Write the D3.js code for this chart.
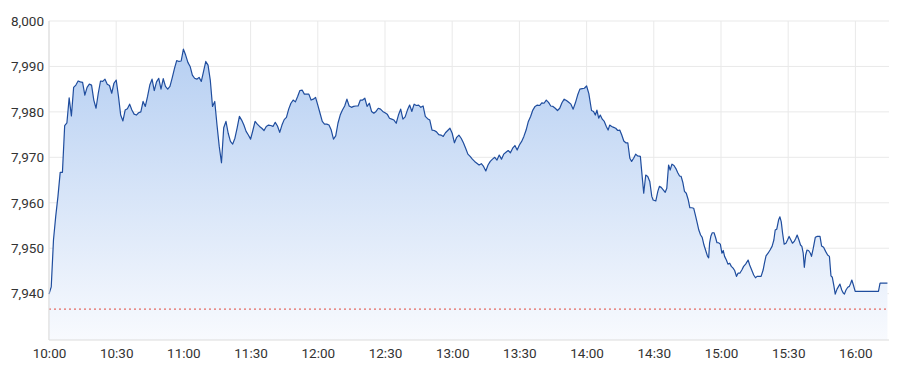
<!DOCTYPE html>
<html>
<head>
<meta charset="utf-8">
<script src="https://cdn.jsdelivr.net/npm/d3@7"></script>
<style>
  body { margin: 0; background: #fff; }
  #chart text { font-family: Roboto, "Noto Sans", sans-serif; }
</style>
</head>
<body>
<div id="chart"></div>
<script>
// minutes after 10:00 and the index level read at that moment
const minutes = [
  0, 1, 2, 3, 4, 5, 6, 7, 8, 9, 10, 11, 12, 13, 14, 15, 16, 17, 18, 19,
  20, 21, 22, 23, 24, 25, 26, 27, 28, 29, 30, 31, 32, 33, 34, 35, 36, 37, 38, 39,
  40, 41, 42, 43, 44, 45, 46, 47, 48, 49, 50, 51, 52, 53, 54, 55, 56, 57, 58, 59,
  60, 61, 62, 63, 64, 65, 66, 67, 68, 69, 70, 71, 72, 73, 74, 75, 76, 77, 78, 79,
  80, 81, 82, 83, 84, 85, 86, 87, 88, 89, 90, 91, 92, 93, 94, 95, 96, 97, 98, 99,
  100, 101, 102, 103, 104, 105, 106, 107, 108, 109, 110, 111, 112, 113, 114, 115, 116, 117, 118, 119,
  120, 121, 122, 123, 124, 125, 126, 127, 128, 129, 130, 131, 132, 133, 134, 135, 136, 137, 138, 139,
  140, 141, 142, 143, 144, 145, 146, 147, 148, 149, 150, 151, 152, 153, 154, 155, 156, 157, 158, 159,
  160, 161, 162, 163, 164, 165, 166, 167, 168, 169, 170, 171, 172, 173, 174, 175, 176, 177, 178, 179,
  180, 181, 182, 183, 184, 185, 186, 187, 188, 189, 190, 191, 192, 193, 194, 195, 196, 197, 198, 199,
  200, 201, 202, 203, 204, 205, 206, 207, 208, 209, 210, 211, 212, 213, 214, 215, 216, 217, 218, 219,
  220, 221, 222, 223, 224, 225, 226, 227, 228, 229, 230, 231, 232, 233, 234, 235, 236, 237, 238, 239,
  240, 241, 242.2, 243.1, 243.9, 244.6, 245.4, 246.1, 247, 247.9, 248.8, 249.6, 250.3, 251.2, 252.1, 253, 253.9, 254.8, 255.7, 256.6,
  257.5, 258.4, 259.3, 260.1, 261, 261.9, 262.8, 264, 264.6, 265.5, 266.4, 267.3, 268.2, 269.1, 269.7, 270.9, 271.8, 272.5, 273.3, 274.3,
  275.1, 275.8, 276.6, 277.3, 278.1, 279, 280, 280.7, 281.5, 282.2, 283, 283.7, 284.5, 285.4, 286.1, 287, 287.8, 288.7, 289.4, 290.1,
  290.9, 291.6, 292.4, 293.1, 294, 294.5, 294.9, 295.5, 296.1, 296.9, 297.6, 298.2, 298.9, 299.7, 300.4, 301, 301.6, 302.4, 303.1, 303.9,
  304.6, 305.4, 306.1, 306.9, 307.6, 308.4, 309.3, 310.1, 311, 312.1, 312.8, 313.7, 314.6, 315.4, 316.1, 317, 317.9, 318.8, 319.4, 320.1,
  321, 321.9, 322.8, 323.6, 324.2, 324.9, 325.7, 326.3, 326.9, 327.5, 328.2, 329, 329.7, 330.4, 331.2, 331.9, 332.7, 333.4, 334, 334.8,
  335.5, 336.1, 336.7, 337.2, 337.8, 338.4, 339.1, 339.9, 340.4, 341.2, 342.1, 343, 344.2, 344.9, 345.8, 346.7, 347.6, 348.4, 349.1, 349.7,
  350.4, 351, 351.8, 352.5, 353.1, 353.9, 354.5, 355.1, 355.8, 356.6, 357.3, 357.9, 358.4, 359.1, 359.9, 370.3, 371, 374.3
];
const prices = [
  7939.9, 7941.5, 7951.8, 7957.0, 7961.4, 7966.7, 7966.7, 7977.0, 7977.6, 7983.1, 7979.1, 7985.4, 7985.9, 7986.8, 7986.6, 7986.5, 7983.7, 7985.4, 7986.1, 7985.9,
  7982.6, 7980.8, 7984.1, 7986.8, 7986.7, 7987.2, 7986.1, 7985.8, 7984.1, 7986.3, 7987.0, 7983.5, 7979.3, 7978.0, 7980.4, 7980.7, 7981.7, 7980.4, 7979.5, 7979.3,
  7979.8, 7980.0, 7982.3, 7981.2, 7983.4, 7985.9, 7987.2, 7984.7, 7986.6, 7987.4, 7985.0, 7987.3, 7985.6, 7985.0, 7985.6, 7987.5, 7989.5, 7991.3, 7991.1, 7991.2,
  7993.8, 7992.5, 7990.9, 7990.0, 7988.1, 7987.4, 7987.2, 7987.6, 7986.7, 7988.9, 7991.1, 7990.3, 7987.0, 7981.2, 7982.3, 7977.1, 7972.4, 7968.8, 7976.5, 7977.9,
  7975.3, 7973.5, 7972.9, 7974.2, 7976.5, 7979.0, 7978.2, 7977.1, 7975.7, 7974.9, 7974.0, 7975.9, 7977.9, 7977.3, 7976.8, 7976.4, 7975.9, 7976.8, 7977.1, 7977.0,
  7976.8, 7977.7, 7976.9, 7975.5, 7977.1, 7978.3, 7978.8, 7980.6, 7981.9, 7982.6, 7982.2, 7983.4, 7984.7, 7984.8, 7983.9, 7983.9, 7983.9, 7982.6, 7982.8, 7983.2,
  7981.5, 7979.7, 7977.9, 7977.3, 7977.3, 7977.1, 7976.0, 7974.0, 7974.7, 7977.5, 7979.3, 7980.4, 7981.3, 7982.8, 7981.3, 7981.0, 7981.2, 7981.3, 7981.3, 7982.6,
  7982.6, 7983.0, 7981.2, 7981.9, 7980.1, 7979.7, 7980.1, 7980.8, 7980.6, 7980.1, 7979.8, 7979.5, 7978.6, 7978.4, 7978.2, 7977.5, 7979.3, 7980.6, 7978.4, 7978.9,
  7980.4, 7981.5, 7980.1, 7981.7, 7981.4, 7981.5, 7981.0, 7981.3, 7979.0, 7978.5, 7978.2, 7976.0, 7975.9, 7975.6, 7975.0, 7974.9, 7974.6, 7975.4, 7975.9, 7976.4,
  7975.3, 7973.2, 7974.4, 7974.9, 7974.2, 7973.2, 7972.0, 7970.7, 7970.2, 7969.6, 7969.1, 7968.7, 7968.3, 7968.6, 7968.0, 7967.0, 7968.3, 7969.1, 7969.6, 7970.0,
  7969.4, 7970.5, 7969.6, 7970.7, 7971.1, 7971.5, 7971.0, 7972.0, 7972.6, 7971.6, 7972.7, 7973.5, 7974.6, 7976.0, 7977.9, 7979.0, 7980.4, 7981.2, 7981.5, 7981.4,
  7982.0, 7981.9, 7982.6, 7982.1, 7981.3, 7981.2, 7980.8, 7980.3, 7980.8, 7982.0, 7982.8, 7982.5, 7982.1, 7981.7, 7980.6, 7982.0, 7983.7, 7985.0, 7985.1, 7985.2,
  7985.7, 7984.0, 7980.3, 7980.1, 7979.3, 7980.4, 7978.6, 7979.3, 7978.4, 7977.9, 7976.8, 7976.0, 7977.1, 7976.8, 7976.6, 7976.4, 7975.9, 7976.0, 7974.9, 7973.6,
  7973.2, 7973.2, 7969.8, 7969.1, 7969.8, 7970.7, 7970.3, 7970.2, 7966.9, 7962.1, 7966.1, 7965.8, 7964.7, 7961.4, 7960.6, 7960.4, 7962.5, 7963.6, 7963.4, 7962.8,
  7962.3, 7963.2, 7968.3, 7967.2, 7968.5, 7968.2, 7967.4, 7966.6, 7965.9, 7965.8, 7964.4, 7962.5, 7962.1, 7960.6, 7958.9, 7958.9, 7958.8, 7957.0, 7955.5, 7954.0,
  7952.9, 7952.4, 7950.7, 7949.6, 7948.2, 7947.9, 7951.1, 7952.7, 7953.4, 7953.4, 7952.3, 7951.2, 7951.2, 7950.9, 7948.9, 7949.5, 7948.2, 7947.4, 7946.5, 7946.7,
  7946.0, 7945.6, 7945.1, 7943.8, 7944.5, 7944.5, 7945.2, 7946.0, 7946.5, 7947.4, 7946.3, 7945.2, 7944.1, 7943.5, 7943.8, 7943.8, 7943.8, 7945.2, 7946.7, 7948.3,
  7948.9, 7949.6, 7950.4, 7951.8, 7954.0, 7954.2, 7956.2, 7956.9, 7955.8, 7953.3, 7950.9, 7951.1, 7951.8, 7952.6, 7951.8, 7951.1, 7951.5, 7952.2, 7952.9, 7951.8,
  7950.7, 7950.4, 7948.9, 7945.8, 7948.5, 7949.6, 7949.5, 7948.9, 7948.2, 7950.0, 7952.4, 7952.6, 7952.6, 7950.5, 7950.2, 7949.3, 7948.5, 7948.2, 7943.9, 7943.6,
  7941.7, 7939.9, 7941.0, 7941.6, 7942.1, 7940.8, 7940.2, 7939.9, 7940.8, 7941.4, 7941.6, 7942.3, 7943.0, 7941.9, 7940.5, 7940.5, 7942.3, 7942.3
];
const prevClose = 7936.6;
const yTicks = [7940, 7950, 7960, 7970, 7980, 7990, 8000];
const yMin = 7929.8, yMax = 8000;
const sessionMinutes = 375; // 10:00 -> 16:15

// set the dimensions and margins of the graph
const margin = {top: 21, right: 11, bottom: 35, left: 49},
  width = 900 - margin.left - margin.right,
  height = 375 - margin.top - margin.bottom;

const start = new Date(2024, 0, 2, 10, 0);
const toDate = m => new Date(+start + m * 60000);
const data = minutes.map((m, i) => ({date: toDate(m), value: prices[i]}));

const svg = d3.select("#chart")
  .append("svg")
  .attr("width", width + margin.left + margin.right)
  .attr("height", height + margin.top + margin.bottom)
  .append("g")
  .attr("transform", `translate(${margin.left},${margin.top})`);

const x = d3.scaleTime()
  .domain([start, toDate(sessionMinutes)])
  .range([0, width]);
const y = d3.scaleLinear()
  .domain([yMin, yMax])
  .range([height, 0]);

const xTicks = d3.timeMinute.every(30).range(start, toDate(sessionMinutes));

// gradient for the area
const grad = svg.append("defs").append("linearGradient")
  .attr("id", "area-grad")
  .attr("gradientUnits", "userSpaceOnUse")
  .attr("x1", 0).attr("x2", 0)
  .attr("y1", y(7994)).attr("y2", height);
grad.append("stop").attr("offset", "0%").attr("stop-color", "#b6cff2");
grad.append("stop").attr("offset", "100%").attr("stop-color", "#f8fafe");

// grid lines
svg.selectAll("line.h-grid").data(yTicks).enter()
  .append("line")
  .attr("class", "h-grid")
  .attr("x1", 0).attr("x2", width)
  .attr("y1", d => y(d)).attr("y2", d => y(d))
  .attr("stroke", "#e9e9e9")
  .attr("stroke-width", 1);

svg.selectAll("line.v-grid").data(xTicks).enter()
  .append("line")
  .attr("class", "v-grid")
  .attr("x1", d => x(d)).attr("x2", d => x(d))
  .attr("y1", 0).attr("y2", height)
  .attr("stroke", "#e9e9e9")
  .attr("stroke-width", 1);

// area + line
svg.append("path")
  .datum(data)
  .attr("fill", "url(#area-grad)")
  .attr("d", d3.area()
    .x(d => x(d.date))
    .y0(height)
    .y1(d => y(d.value)));

svg.append("path")
  .datum(data)
  .attr("fill", "none")
  .attr("stroke", "#1f4d9e")
  .attr("stroke-width", 1.2)
  .attr("stroke-linejoin", "round")
  .attr("d", d3.line()
    .x(d => x(d.date))
    .y(d => y(d.value)));

// previous close
svg.append("line")
  .attr("x1", 0).attr("x2", width)
  .attr("y1", y(prevClose)).attr("y2", y(prevClose))
  .attr("stroke", "#e2473d")
  .attr("stroke-width", 1)
  .attr("stroke-dasharray", "2,3");

// frame: left and bottom
svg.append("line")
  .attr("x1", 0).attr("x2", 0).attr("y1", 0).attr("y2", height)
  .attr("stroke", "#dcdcdc");
svg.append("line")
  .attr("x1", 0).attr("x2", width).attr("y1", height).attr("y2", height)
  .attr("stroke", "#dcdcdc");

// axes
const yAxis = svg.append("g")
  .call(d3.axisLeft(y).tickValues(yTicks).tickFormat(d3.format(",")).tickSize(0).tickPadding(5));
yAxis.select(".domain").remove();
yAxis.selectAll("text").attr("fill", "#333").style("font-size", "13.5px");

const xAxis = svg.append("g")
  .attr("transform", `translate(0,${height})`)
  .call(d3.axisBottom(x).tickValues(xTicks).tickFormat(d3.timeFormat("%H:%M")).tickSize(0).tickPadding(8));
xAxis.select(".domain").remove();
xAxis.selectAll("text").attr("fill", "#333").style("font-size", "13.5px");
</script>
</body>
</html>
